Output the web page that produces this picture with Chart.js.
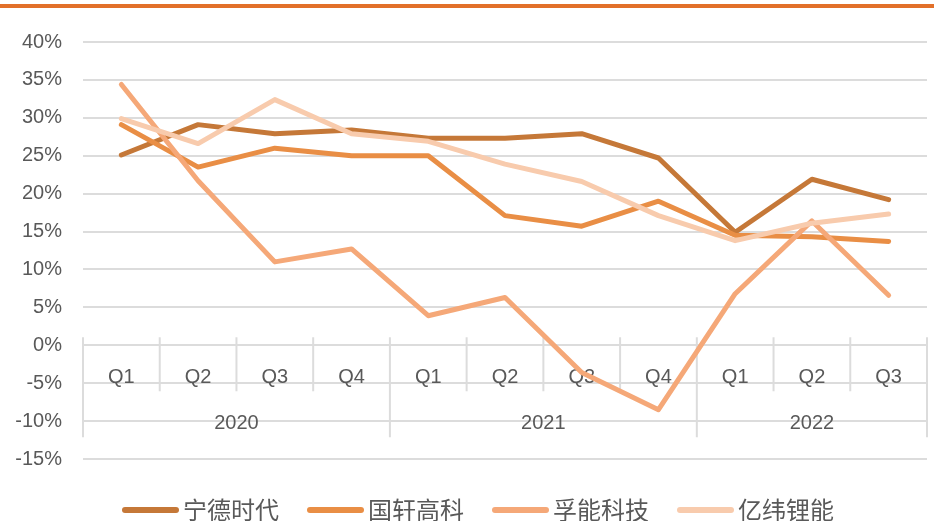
<!DOCTYPE html>
<html>
<head>
<meta charset="utf-8">
<script src="https://cdn.jsdelivr.net/npm/chart.js@4"></script>
<style>
  body { margin: 0; background: #fff; }
  #wrap { position: relative; width: 934px; height: 521px; }
  #topbar { position: absolute; left: 0; top: 4px; width: 934px; height: 4px; background: #e2702a; }
  canvas { position: absolute; left: 0; top: 0; }
</style>
</head>
<body>
<div id="wrap">
  <canvas id="line-chart" width="934" height="521"></canvas>
  <div id="topbar"></div>
</div>
<script>
/* 데이터 */
var quarters = ['Q1','Q2','Q3','Q4','Q1','Q2','Q3','Q4','Q1','Q2','Q3'];
var years = ['2020','2021','2022'];
var yearSpans = [4, 4, 3];
var seriesNames = ['宁德时代','国轩高科','孚能科技','亿纬锂能'];
var catl   = [25.1, 29.1, 27.9, 28.4, 27.3, 27.3, 27.9, 24.7, 14.9, 21.9, 19.2];
var gotion = [29.1, 23.5, 26.0, 25.0, 25.0, 17.1, 15.7, 19.0, 14.5, 14.3, 13.7];
var farasis= [34.4, 21.7, 11.0, 12.7,  3.9,  6.3, -3.6, -8.5,  6.8, 16.4,  6.6];
var eve    = [29.9, 26.6, 32.4, 27.9, 26.9, 23.9, 21.6, 17.1, 13.8, 16.1, 17.3];
var yTicks = [-15, 40, 5];
var colors = ['#c57838','#e98e45','#f5a878','#f8cbad'];

var textColor = '#595959';
var gridColor = '#dcdcdc';

/* x축 (분기 / 연도) 직접 그리기 */
var categoryAxis = {
    id: 'categoryAxis',
    beforeDatasetsDraw: function(chart){
        var ctx = chart.ctx;
        var x = chart.scales.x;
        var y0 = chart.scales.y.getPixelForValue(0);
        var area = chart.chartArea;
        var n = quarters.length;
        var bounds = [];
        for(var i = 0; i <= n; i++){
            if(i == 0) bounds.push(area.left);
            else if(i == n) bounds.push(area.right);
            else bounds.push((x.getPixelForValue(i-1) + x.getPixelForValue(i)) / 2);
        }
        var yearEdges = [0];
        for(var k = 0; k < yearSpans.length; k++) yearEdges.push(yearEdges[k] + yearSpans[k]);

        ctx.save();
        ctx.strokeStyle = gridColor;
        ctx.lineWidth = 2;
        for(var i = 0; i <= n; i++){
            var isYear = yearEdges.indexOf(i) >= 0;
            ctx.beginPath();
            ctx.moveTo(bounds[i], y0 - 8);
            ctx.lineTo(bounds[i], y0 + (isYear ? 92 : 46));
            ctx.stroke();
        }
        ctx.fillStyle = textColor;
        ctx.font = '20px "Liberation Sans", Arial, sans-serif';
        ctx.textAlign = 'center';
        ctx.textBaseline = 'middle';
        for(var i = 0; i < n; i++){
            ctx.fillText(quarters[i], x.getPixelForValue(i), y0 + 32);
        }
        for(var k = 0; k < years.length; k++){
            var cx = (bounds[yearEdges[k]] + bounds[yearEdges[k+1]]) / 2;
            ctx.fillText(years[k], cx, y0 + 78);
        }
        ctx.restore();
    }
};

/* 범례 */
var bottomLegend = {
    id: 'bottomLegend',
    afterDraw: function(chart){
        var ctx = chart.ctx;
        var ds = chart.data.datasets;
        var lx = 122, ly = 510;
        ctx.save();
        ctx.font = '24px "Noto Sans CJK SC", sans-serif';
        ctx.textBaseline = 'middle';
        ctx.textAlign = 'left';
        for(var i = 0; i < ds.length; i++){
            ctx.strokeStyle = ds[i].borderColor;
            ctx.lineWidth = 6;
            ctx.lineCap = 'round';
            ctx.beginPath();
            ctx.moveTo(lx + 3, ly);
            ctx.lineTo(lx + 54, ly);
            ctx.stroke();
            ctx.fillStyle = textColor;
            ctx.fillText(ds[i].label, lx + 61, ly);
            lx += 61 + ctx.measureText(ds[i].label).width + 28;
        }
        ctx.restore();
    }
};

var seriesData = [catl, gotion, farasis, eve];
var datasets = [];
for(var i = 0; i < seriesNames.length; i++){
    datasets.push({
        label: seriesNames[i],
        data: seriesData[i],
        borderColor: colors[i],
        backgroundColor: colors[i],
        borderWidth: 5,
        borderCapStyle: 'round',
        borderJoinStyle: 'round',
        pointRadius: 0,
        tension: 0,
        fill: false,
        order: seriesNames.length - 1 - i
    });
}

var lineConfig = {
    type: 'line',
    data: {
        labels: quarters.map(function(q, i){ return q + '-' + i; }),
        datasets: datasets
    },
    options: {
        responsive: false,
        animation: false,
        layout: { padding: { top: 42, right: 7, left: 0, bottom: 0 } },
        plugins: {
            tooltip: { enabled: false },
            legend: { display: false }
        },
        scales: {
            x: {
                offset: true,
                grid: { display: false },
                border: { display: false },
                ticks: { display: false },
                afterFit: function(s){ s.height = 62; }
            },
            y: {
                min: yTicks[0],
                max: yTicks[1],
                ticks: {
                    stepSize: yTicks[2],
                    padding: 21,
                    color: textColor,
                    font: { family: '"Liberation Sans", Arial, sans-serif', size: 20 },
                    callback: function(v){ return v + '%'; }
                },
                grid: { color: gridColor, lineWidth: 2, drawTicks: false },
                border: { display: false },
                afterFit: function(s){ s.width = 83; }
            }
        }
    },
    plugins: [categoryAxis, bottomLegend]
};
var lineChart = new Chart(document.getElementById('line-chart'), lineConfig);
</script>
</body>
</html>
